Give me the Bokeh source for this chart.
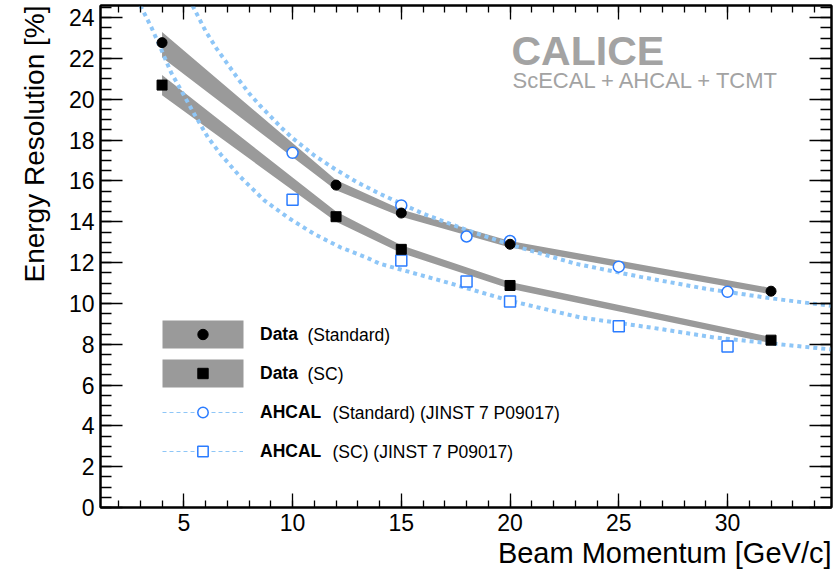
from bokeh.plotting import figure
from bokeh.models import (Range1d, LinearAxis, SingleIntervalTicker, Legend,
                          LegendItem, Label, BoxAnnotation, CustomJSTickFormatter,
                          Title)
from bokeh.embed import file_html
from bokeh.resources import INLINE

# ---------------- data ----------------
beam_momentum = [4, 12, 15, 20, 32]
data_std = [22.78, 15.8, 14.43, 12.9, 10.6]
data_std_lo = [22.05, 15.55, 14.25, 12.74, 10.45]
data_std_hi = [23.3, 16.05, 14.6, 13.06, 10.76]
data_sc = [20.7, 14.25, 12.65, 10.88, 8.2]
data_sc_lo = [20.2, 14.0, 12.47, 10.72, 8.05]
data_sc_hi = [21.2, 14.5, 12.85, 11.05, 8.36]

ahcal_momentum = [10, 15, 18, 20, 25, 30]
ahcal_std = [17.38, 14.8, 13.28, 13.06, 11.8, 10.57]
ahcal_sc = [15.08, 12.1, 11.08, 10.1, 8.88, 7.89]

fit_std_x = [5.4, 6.0, 6.5, 7.0, 7.5, 8.0, 8.5, 9.0, 9.5, 10.0, 11.0, 12.0,
             13.0, 14.0, 16.0, 18.0, 20.0, 23.0, 26.0, 29.0, 32.0, 34.9]
fit_std_y = [24.6, 23.35, 22.5, 21.75, 21.0, 20.3, 19.7, 19.15, 18.6, 18.1,
             17.25, 16.55, 15.92, 15.38, 14.4, 13.6, 12.88, 11.95, 11.3,
             10.72, 10.25, 9.86]
fit_sc_x = [3.0, 3.5, 3.9, 4.4, 4.9, 5.5, 6.1, 6.7, 7.6, 8.7, 9.8, 11.0,
            12.2, 13.4, 14.0, 17.1, 20.0, 23.2, 26.9, 29.4, 32.0, 34.9]
fit_sc_y = [24.6, 23.55, 22.6, 21.35, 20.4, 19.25, 18.15, 17.3, 16.2, 15.05,
            14.2, 13.4, 12.75, 12.25, 11.95, 11.03, 10.13, 9.32, 8.75, 8.33,
            8.04, 7.73]

x_tick_step = 5
y_tick_step = 2

x_title = "Beam Momentum [GeV/c]"
y_title = "Energy Resolution [%]"
legend_bold = ["Data", "Data", "AHCAL", "AHCAL"]
legend_rest = ["(Standard)", "(SC)", "(Standard) (JINST 7 P09017)",
               "(SC) (JINST 7 P09017)"]

# ---------------- layout ----------------
FONT = "Liberation Sans"
X0, X1 = 1.17, 34.78
Y0, Y1 = 0.0, 24.6
W, H = 834, 575
BL, BR, BT, BB = 100, 3, 5, 68
FW, FH = W - BL - BR, H - BT - BB


def dx(px):  # page pixel -> data x
    return X0 + (px - BL) * (X1 - X0) / FW


def dy(py):  # page pixel -> data y
    return Y0 + (BT + FH - py) * (Y1 - Y0) / FH


GRAY = "#9a9a9a"
FIT = "#8ec6f7"
BLUE = "#2b7cff"

p = figure(width=W, height=H, x_range=Range1d(X0, X1), y_range=Range1d(Y0, Y1),
           output_backend="svg", toolbar_location=None,
           min_border_left=BL, min_border_right=BR, min_border_top=BT,
           min_border_bottom=BB)
p.xgrid.visible = False
p.ygrid.visible = False
p.outline_line_color = "black"
p.outline_line_width = 2
p.background_fill_color = "white"
p.border_fill_color = "white"

bottom_axis = p.below[0]
left_axis = p.left[0]
bottom_axis.ticker = SingleIntervalTicker(interval=x_tick_step, num_minor_ticks=5)
left_axis.ticker = SingleIntervalTicker(interval=y_tick_step, num_minor_ticks=4)
blank = CustomJSTickFormatter(code="return ''")
top_axis = LinearAxis(ticker=SingleIntervalTicker(interval=x_tick_step, num_minor_ticks=5),
                      formatter=blank)
right_axis = LinearAxis(ticker=SingleIntervalTicker(interval=y_tick_step, num_minor_ticks=4),
                        formatter=blank)
p.add_layout(top_axis, "above")
p.add_layout(right_axis, "right")


def style_axis(ax, major_in, minor_in, labels):
    ax.axis_line_color = "black"
    ax.axis_line_width = 2
    ax.major_tick_in = major_in
    ax.major_tick_out = 0
    ax.minor_tick_in = minor_in
    ax.minor_tick_out = 0
    ax.major_tick_line_color = "black"
    ax.minor_tick_line_color = "black"
    ax.major_tick_line_width = 1.3
    ax.minor_tick_line_width = 1.3
    if labels:
        ax.major_label_text_font = FONT
        ax.major_label_text_font_size = "23px"
        ax.major_label_text_color = "black"
        ax.major_label_standoff = 6
    else:
        ax.major_label_standoff = 0


style_axis(bottom_axis, 14, 7, True)
style_axis(left_axis, 22, 11, True)
style_axis(top_axis, 14, 7, False)
style_axis(right_axis, 22, 11, False)

# axis titles, right / top aligned as in the reference
p.add_layout(Title(text=x_title, align="right", text_font=FONT,
                   text_font_size="29px", text_font_style="normal",
                   text_color="black", standoff=3, offset=0), "below")
p.add_layout(Title(text=y_title, align="right", text_font=FONT,
                   text_font_size="28px", text_font_style="normal",
                   text_color="black", standoff=32, offset=0), "left")

# ---------------- glyphs ----------------
band_std = p.varea(x=beam_momentum, y1=data_std_lo, y2=data_std_hi, fill_color=GRAY)
band_sc = p.varea(x=beam_momentum, y1=data_sc_lo, y2=data_sc_hi, fill_color=GRAY)

p.line(fit_std_x, fit_std_y, line_color=FIT, line_width=4, line_dash="4 4")
p.line(fit_sc_x, fit_sc_y, line_color=FIT, line_width=4, line_dash="4 4")

ah_std = p.scatter(ahcal_momentum, ahcal_std, marker="circle", size=11,
                   fill_color="white", line_color=BLUE, line_width=1.5)
ah_sc = p.scatter(ahcal_momentum, ahcal_sc, marker="square", size=11,
                  fill_color="white", line_color=BLUE, line_width=1.5)

pts_std = p.scatter(beam_momentum, data_std, marker="circle", size=10,
                    fill_color="black", line_color="black")
pts_sc = p.scatter(beam_momentum, data_sc, marker="square", size=10,
                   fill_color="black", line_color="black")

# legend-only line style (a single NaN point, nothing is drawn in the plot)
leg_line = p.line(x=[float("nan")], y=[float("nan")], line_color=FIT,
                  line_width=1, line_dash="4 3")

# ---------------- legend ----------------
frame_bottom = BT + FH
for top, bot in ((320, 348), (359, 387)):
    p.add_layout(BoxAnnotation(left=dx(162), right=dx(243), top=dy(top),
                               bottom=dy(bot), fill_color=GRAY, fill_alpha=1,
                               line_color=None))

legend = Legend(items=[LegendItem(label=legend_bold[0], renderers=[pts_std]),
                       LegendItem(label=legend_bold[1], renderers=[pts_sc]),
                       LegendItem(label=legend_bold[2], renderers=[leg_line, ah_std]),
                       LegendItem(label=legend_bold[3], renderers=[leg_line, ah_sc])],
                location=(62, frame_bottom - 464), glyph_width=81,
                glyph_height=26, spacing=13, padding=0, margin=0,
                border_line_alpha=0, background_fill_alpha=0,
                label_standoff=17, label_text_font=FONT,
                label_text_font_size="17.5px", label_text_font_style="bold",
                label_text_color="black", label_height=26)
p.add_layout(legend)

row_y = [334, 373, 412, 451]
rest_x = [307, 307, 332, 332]
for i in range(4):
    p.add_layout(Label(x=dx(rest_x[i]), y=dy(row_y[i]), text=legend_rest[i],
                       text_font=FONT, text_font_size="17.5px",
                       text_baseline="middle", text_color="black"))

# ---------------- CALICE tag ----------------
p.add_layout(Label(x=dx(511), y=dy(50), text="CALICE", text_font=FONT,
                   text_font_size="41px", text_font_style="bold",
                   text_color="#a3a3a3", text_baseline="alphabetic"))
p.add_layout(Label(x=dx(512), y=dy(80), text="ScECAL + AHCAL + TCMT",
                   text_font=FONT, text_font_size="22px",
                   text_color="#a3a3a3", text_baseline="alphabetic"))

open("out.html", "w").write(file_html(p, INLINE))
